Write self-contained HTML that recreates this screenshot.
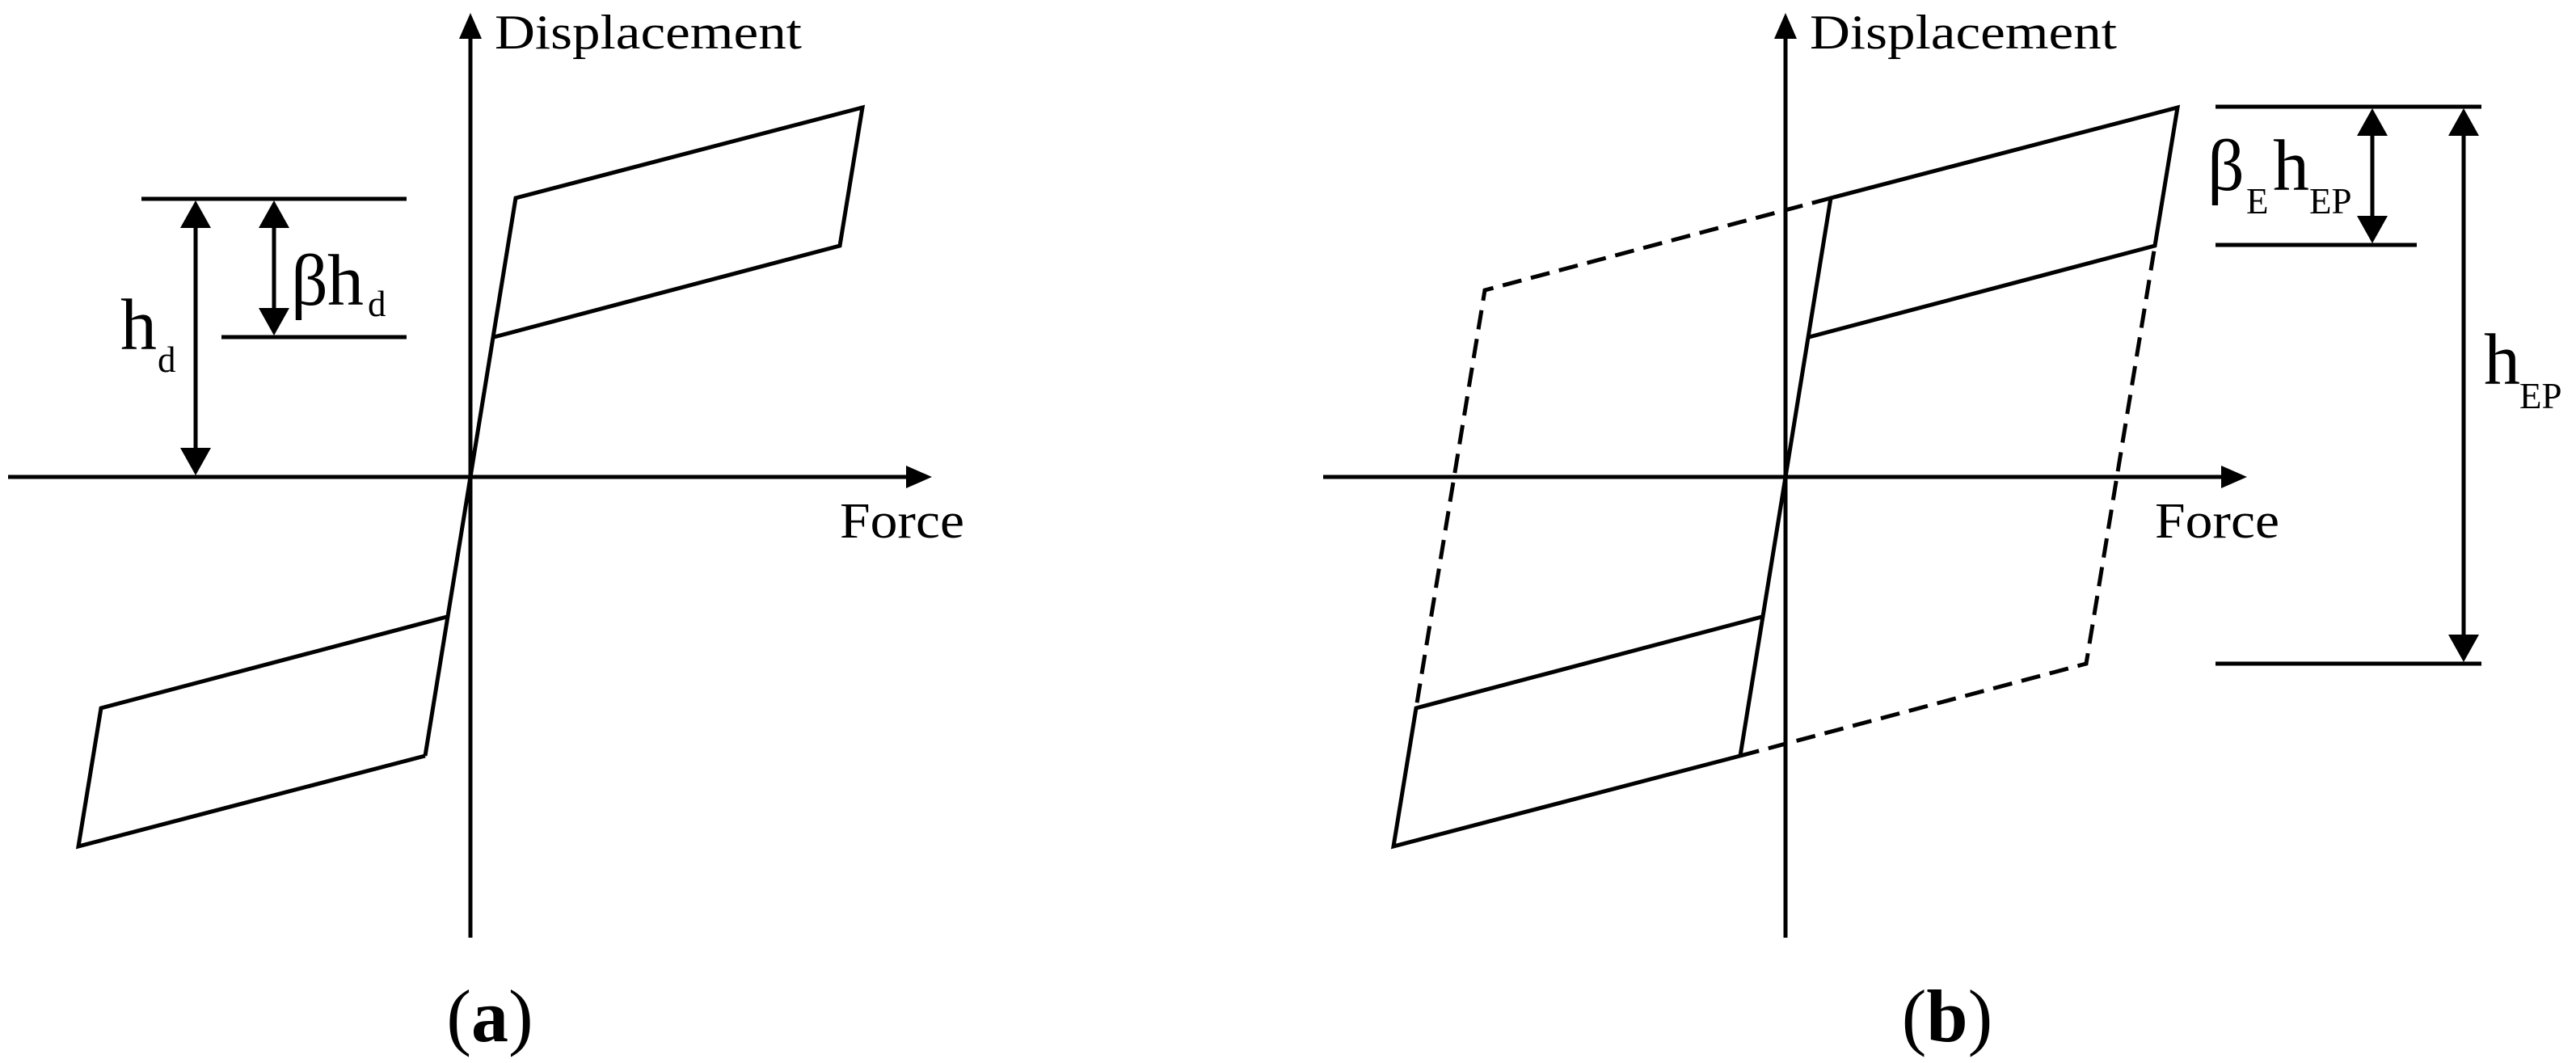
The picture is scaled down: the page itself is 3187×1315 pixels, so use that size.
<!DOCTYPE html>
<html><head><meta charset="utf-8"><style>
html,body{margin:0;padding:0;background:#fff;}
svg{display:block;}
text{font-family:"Liberation Serif",serif;fill:#000;}
</style></head><body>
<svg width="3187" height="1315" viewBox="0 0 3187 1315" xmlns="http://www.w3.org/2000/svg">
<g stroke="#000" stroke-width="5" fill="none" stroke-linejoin="miter">
<!-- Panel a axes -->
<line x1="582" y1="44" x2="582" y2="1160"/>
<line x1="10" y1="590" x2="1125" y2="590"/>
<!-- Panel a loops -->
<polyline points="526,935 638,245 1067,133 1039,304 611,417"/>
<polyline points="553,763 125,876 97,1047 526,935"/>
<!-- Panel a dims -->
<line x1="175" y1="246" x2="503" y2="246"/>
<line x1="274" y1="417" x2="503" y2="417"/>
<line x1="242" y1="275" x2="242" y2="560"/>
<line x1="339" y1="275" x2="339" y2="388"/>

<!-- Panel b axes -->
<line x1="2209" y1="44" x2="2209" y2="1160"/>
<line x1="1637" y1="590" x2="2752" y2="590"/>
<!-- Panel b loops -->
<polyline points="2153,935 2265,245 2694,133 2666,304 2238,417"/>
<polyline points="2180,763 1752,876 1724,1047 2153,935"/>
<!-- dashed -->
<polyline stroke-dasharray="24,12" points="2265,245 1837,359 1752,876"/>
<polyline stroke-dasharray="24,12" points="2153,935 2581,821 2666,304"/>
<!-- Panel b dims -->
<line x1="2741" y1="132" x2="3070" y2="132"/>
<line x1="2741" y1="303" x2="2990" y2="303"/>
<line x1="2741" y1="821" x2="3070" y2="821"/>
<line x1="2935" y1="160" x2="2935" y2="275"/>
<line x1="3048" y1="160" x2="3048" y2="793"/>
</g>
<g fill="#000">
<!-- axis arrowheads -->
<polygon points="582,16 568,48 596,48"/>
<polygon points="1153,590 1121,576 1121,604"/>
<polygon points="2209,16 2195,48 2223,48"/>
<polygon points="2780,590 2748,576 2748,604"/>
<!-- dim arrowheads a -->
<polygon points="242,248 223,282 261,282"/>
<polygon points="242,588 223,554 261,554"/>
<polygon points="339,248 320,282 358,282"/>
<polygon points="339,415 320,381 358,381"/>
<!-- dim arrowheads b -->
<polygon points="2935,134 2916,168 2954,168"/>
<polygon points="2935,301 2916,267 2954,267"/>
<polygon points="3048,134 3029,168 3067,168"/>
<polygon points="3048,819 3029,785 3067,785"/>
</g>
<!-- labels -->
<text x="612" y="60" font-size="60" textLength="380" lengthAdjust="spacingAndGlyphs">Displacement</text>
<text x="1039" y="665" font-size="62" textLength="154" lengthAdjust="spacingAndGlyphs">Force</text>
<text x="2239" y="60" font-size="60" textLength="380" lengthAdjust="spacingAndGlyphs">Displacement</text>
<text x="2666" y="665" font-size="62" textLength="154" lengthAdjust="spacingAndGlyphs">Force</text>

<text x="149" y="432" font-size="90">h</text>
<text x="195" y="460" font-size="45">d</text>
<text x="360" y="377" font-size="90">β</text>
<text x="405" y="377" font-size="90">h</text>
<text x="455" y="391" font-size="45">d</text>

<text x="2731" y="235" font-size="90">β</text>
<text x="2779" y="264" font-size="45">E</text>
<text x="2812" y="235" font-size="90">h</text>
<text x="2857" y="264" font-size="45">EP</text>
<text x="3073" y="475" font-size="90">h</text>
<text x="3117" y="505" font-size="45">EP</text>

<text x="606" y="1288" font-size="92" text-anchor="middle">(<tspan font-weight="bold">a</tspan>)</text>
<text x="2409" y="1288" font-size="92" text-anchor="middle">(<tspan font-weight="bold">b</tspan>)</text>
</svg>
</body></html>
